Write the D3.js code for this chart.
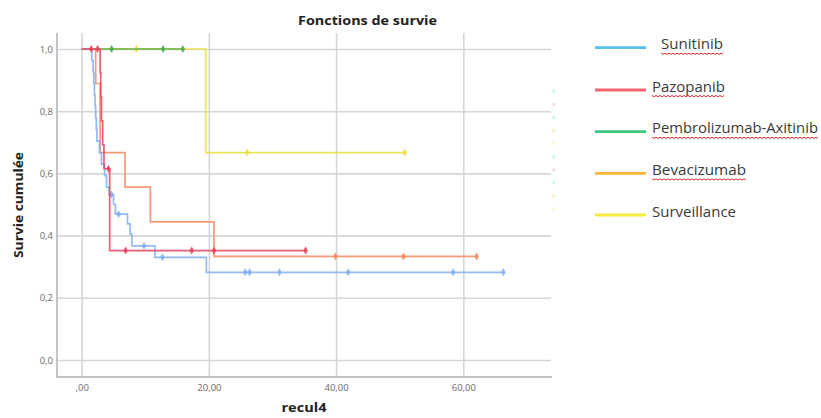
<!DOCTYPE html>
<html><head><meta charset="utf-8">
<script src="https://cdn.jsdelivr.net/npm/d3@7"></script>
<style>
html,body{margin:0;padding:0;background:#fff;}
svg{display:block;}
</style></head>
<body>
<svg id="chart" width="821" height="418"></svg>
<script>
// ---------- DATA ----------
const seriesNames = ["Sunitinib","Pazopanib","Pembrolizumab-Axitinib","Bevacizumab","Surveillance"];
const plotColors  = ["#80aef0","#e8435e","#4caa4c","#f7885c","#e9e03c"];
const legendColors= ["#55c2f0","#f2646e","#3cc77c","#f6b43a","#f4ea3a"];

// event times (step down) and survival after each event
const sunitinibTimes = [1.6,1.8,1.9,2.0,2.1,2.2,2.3,2.4,2.8,3.1,3.6,3.9,4.3,5.0,5.3,7.2,7.6,7.9,11.5,19.6];
const sunitinibSurv  = [0.963,0.926,0.889,0.852,0.815,0.778,0.741,0.704,0.667,0.630,0.593,0.556,0.532,0.500,0.469,0.438,0.405,0.367,0.330,0.282];
const sunitinibCens  = [4.7,5.8,9.8,12.7,25.7,26.4,31.1,41.9,58.4,66.3];

const pazopanibTimes = [2.9,3.0,3.1,3.3,3.5,4.4];
const pazopanibSurv  = [0.923,0.846,0.769,0.692,0.615,0.352];
const pazopanibCens  = [1.5,2.5,4.2,6.9,17.3,20.8,35.2];

const pembroTimes = [];
const pembroSurv  = [];
const pembroCens  = [4.7,12.8,15.9];

const bevacizumabTimes = [2.2,2.9,6.8,10.8,20.8];
const bevacizumabSurv  = [0.889,0.667,0.556,0.444,0.333];
const bevacizumabCens  = [39.9,50.6,62.1];

const surveillanceTimes = [19.5];
const surveillanceSurv  = [0.667];
const surveillanceCens  = [8.6,26.0,50.8];

const xTickValues = [0,20,40,60];
const xTickLabels = [",00","20,00","40,00","60,00"];
const yTickValues = [0,0.2,0.4,0.6,0.8,1.0];
const yTickLabels = ["0,0","0,2","0,4","0,6","0,8","1,0"];

const titleText = "Fonctions de survie";
const xTitle = "recul4";
const yTitle = "Survie cumulée";

// ---------- BUILD ----------
const series = [
  {t:sunitinibTimes, s:sunitinibSurv, c:sunitinibCens},
  {t:pazopanibTimes, s:pazopanibSurv, c:pazopanibCens},
  {t:pembroTimes, s:pembroSurv, c:pembroCens},
  {t:bevacizumabTimes, s:bevacizumabSurv, c:bevacizumabCens},
  {t:surveillanceTimes, s:surveillanceSurv, c:surveillanceCens}
].map((d,i)=>({...d, name:seriesNames[i], color:plotColors[i], lcolor:legendColors[i]}));

const svg = d3.select("#chart");
const frameLeft = 57, frameRight = 551, frameTop = 33, frameBottom = 377;

const x = d3.scaleLinear().domain([0,60]).range([81.7,463.3]);
const y = d3.scaleLinear().domain([0,1]).range([360,49]);

const font = "'Open Sans', 'Noto Sans', sans-serif";

// gridlines + tick labels via axes
const gy = svg.append("g").attr("transform",`translate(${frameLeft},0)`)
  .call(d3.axisLeft(y).tickValues(yTickValues).tickFormat((d,i)=>yTickLabels[i])
     .tickSizeInner(-(frameRight-frameLeft)).tickSizeOuter(0).tickPadding(4));
gy.select(".domain").remove();
gy.selectAll(".tick line").attr("stroke","#d6d6d6").attr("stroke-width",1.6);
gy.selectAll(".tick text").attr("fill","#6a6a6a").style("font-family",font).style("font-size","9.5px");

const gx = svg.append("g").attr("transform",`translate(0,${frameBottom})`)
  .call(d3.axisBottom(x).tickValues(xTickValues).tickFormat((d,i)=>xTickLabels[i])
     .tickSizeInner(-(frameBottom-frameTop)).tickSizeOuter(0).tickPadding(7));
gx.select(".domain").remove();
gx.selectAll(".tick line").attr("stroke","#d6d6d6").attr("stroke-width",1.6);
gx.selectAll(".tick text").attr("fill","#6a6a6a").style("font-family",font).style("font-size","9.5px");

// frame lines
svg.append("line").attr("x1",frameLeft).attr("x2",frameLeft).attr("y1",frameTop).attr("y2",frameBottom+1)
  .attr("stroke","#c4c4c4").attr("stroke-width",2);
svg.append("line").attr("x1",frameLeft).attr("x2",frameRight+1).attr("y1",frameBottom).attr("y2",frameBottom)
  .attr("stroke","#c4c4c4").attr("stroke-width",2);

// curves
const line = d3.line().x(d=>x(d[0])).y(d=>y(d[1])).curve(d3.curveStepAfter);
function levelAt(sr, t){
  let lv = 1;
  sr.t.forEach((tt,i)=>{ if (tt<=t) lv = sr.s[i]; });
  return lv;
}
const drawOrder = [4,2,3,0,1];
drawOrder.forEach(i=>{
  const sr = series[i];
  const pts = [[0,1]];
  sr.t.forEach((tt,k)=>pts.push([tt,sr.s[k]]));
  const tEnd = Math.max(d3.max(sr.c)||0, d3.max(sr.t)||0);
  pts.push([tEnd, pts[pts.length-1][1]]);
  svg.append("path").attr("d",line(pts)).attr("fill","none")
    .attr("stroke",sr.color).attr("stroke-width",1.7).attr("stroke-opacity",0.85);
  svg.selectAll(null).data(sr.c).enter().append("path")
    .attr("transform",d=>`translate(${x(d)},${y(levelAt(sr,d))})`)
    .attr("d",d3.symbol(d3.symbolDiamond,18)())
    .attr("fill",sr.color).attr("opacity",0.9);
});

// faint remnant legend dots on right edge
const faintY = d3.range(10);
svg.selectAll(".faint").data(faintY).enter().append("rect")
  .attr("x",552.5).attr("y",d=>90+d*13.1).attr("width",2.5).attr("height",2.5)
  .attr("fill",d=>legendColors[d%5]).attr("opacity",0.3);

// titles
svg.append("text").attr("x",367.5).attr("y",25).attr("text-anchor","middle")
  .attr("textLength",139).attr("lengthAdjust","spacingAndGlyphs")
  .style("font-family",font).style("font-size","12.5px").style("font-weight","bold").attr("fill","#222").text(titleText);
svg.append("text").attr("x",304).attr("y",412).attr("text-anchor","middle")
  .attr("textLength",45).attr("lengthAdjust","spacingAndGlyphs")
  .style("font-family",font).style("font-size","12px").style("font-weight","bold").attr("fill","#222").text(xTitle);
svg.append("text").attr("transform","translate(22.5,205) rotate(-90)").attr("text-anchor","middle")
  .attr("textLength",106).attr("lengthAdjust","spacingAndGlyphs")
  .style("font-family",font).style("font-size","12.5px").style("font-weight","bold").attr("fill","#222").text(yTitle);

// legend
const legY = [47.7,90,131.7,173.3,215];
const legTextX = [661,652,652,652,652];
const legTextW = [62,73,166,94,84];
const lg = svg.append("g");
series.forEach((sr,i)=>{
  lg.append("line").attr("x1",595).attr("x2",646).attr("y1",legY[i]).attr("y2",legY[i])
    .attr("stroke",sr.lcolor).attr("stroke-width",2.8);
  lg.append("text").attr("x",legTextX[i]).attr("y",legY[i]+1.5)
    .attr("textLength",legTextW[i]).attr("lengthAdjust","spacingAndGlyphs")
    .style("font-family",font).style("font-size","15px").attr("fill","#3a3a3a").text(sr.name);
  if (i < 4) {
    const w = legTextW[i];
    const zz = [];
    for (let k=0; k<=Math.floor(w/2); k++) zz.push([legTextX[i]+k*2, legY[i]+5.5 + (k%2?1.2:0)]);
    lg.append("path").attr("d",d3.line()(zz)).attr("fill","none").attr("stroke","#e03030").attr("stroke-width",1);
  }
});
</script>
</body></html>
